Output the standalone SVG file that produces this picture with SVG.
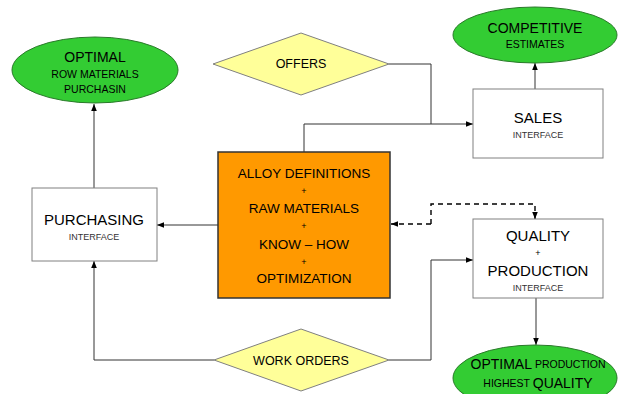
<svg xmlns="http://www.w3.org/2000/svg" width="619" height="394" viewBox="0 0 619 394">
<defs>
<marker id="arr" viewBox="0 0 10 10" refX="10" refY="5" markerWidth="7" markerHeight="7" markerUnits="userSpaceOnUse" orient="auto">
<path d="M0,1 L10,5 L0,9 z" fill="#000"/>
</marker>
<style>
text{font-family:"Liberation Sans",Arial,sans-serif;fill:#000;text-anchor:middle;dominant-baseline:central}
.box{fill:#fff;stroke:#808080;stroke-width:1}
.ell{fill:#33cc33;stroke:#2a7a2a;stroke-width:1}
.dia{fill:#ffff99;stroke:#808080;stroke-width:1}
.core{fill:#ff9900;stroke:#333;stroke-width:1.5}
.con{fill:none;stroke:#333;stroke-width:1}
.dash{stroke:#000;stroke-width:1.4;stroke-dasharray:5,4}
.big{font-size:15px}
.mid{font-size:13.5px}
.sm{font-size:9px;fill:#333}
.el1{font-size:14px}
.el2{font-size:10.5px}
.plus{font-size:9px}
</style>
</defs>
<g id="connectors">
<path class="con" d="M94,188 V104" marker-end="url(#arr)"/>
<path class="con" d="M535,89 V63" marker-end="url(#arr)"/>
<path class="con" d="M218,225 H157" marker-end="url(#arr)"/>
<path class="con" d="M304,152 V124 H473" marker-end="url(#arr)"/>
<path class="con" d="M389,64 H431 V124"/>
<path class="con" d="M214,360 H94 V261" marker-end="url(#arr)"/>
<path class="con" d="M389,360 H431 V260 H473" marker-end="url(#arr)"/>
<path class="con" d="M536,298 V345" marker-end="url(#arr)"/>
<path class="con dash" d="M431,224 V204 H535 V219" marker-end="url(#arr)"/>
<path class="con dash" d="M431,224 H391" marker-end="url(#arr)"/>
</g>
<g id="optimal-purchasing">
<ellipse class="ell" cx="95" cy="70" rx="83" ry="33"/>
<text class="el1" x="95" y="57">OPTIMAL</text>
<text class="el2" x="95" y="74">ROW MATERIALS</text>
<text class="el2" x="95" y="89">PURCHASIN</text>
</g>
<g id="competitive">
<ellipse class="ell" cx="535" cy="35" rx="82" ry="28"/>
<text class="el1" x="535" y="28">COMPETITIVE</text>
<text class="el2" x="535" y="44">ESTIMATES</text>
</g>
<g id="offers">
<polygon class="dia" points="213,64 301,33 389,64 301,95"/>
<text style="font-size:12.5px" x="301" y="64">OFFERS</text>
</g>
<g id="sales">
<rect class="box" x="473" y="89" width="130" height="69"/>
<text class="big" x="538" y="117">SALES</text>
<text class="sm" x="538" y="135">INTERFACE</text>
</g>
<g id="core">
<rect class="core" x="218" y="152" width="172" height="146"/>
<text class="mid" x="304" y="173">ALLOY DEFINITIONS</text>
<text class="plus" x="304" y="191">+</text>
<text class="mid" x="304" y="208">RAW MATERIALS</text>
<text class="plus" x="304" y="226">+</text>
<text class="mid" x="304" y="244">KNOW – HOW</text>
<text class="plus" x="304" y="262">+</text>
<text class="mid" x="304" y="278">OPTIMIZATION</text>
</g>
<g id="purchasing">
<rect class="box" x="32" y="188" width="125" height="73"/>
<text class="big" x="94" y="219">PURCHASING</text>
<text class="sm" x="94" y="237">INTERFACE</text>
</g>
<g id="quality">
<rect class="box" x="473" y="219" width="130" height="79"/>
<text class="big" x="538" y="235">QUALITY</text>
<text class="plus" x="538" y="253">+</text>
<text class="big" x="538" y="270">PRODUCTION</text>
<text class="sm" x="538" y="288">INTERFACE</text>
</g>
<g id="work-orders">
<polygon class="dia" points="214,360 301,329 389,360 301,391"/>
<text style="font-size:12.5px" x="301" y="361">WORK ORDERS</text>
</g>
<g id="optimal-production">
<ellipse class="ell" cx="535" cy="378" rx="82" ry="33"/>
<text x="538" y="364"><tspan class="el1">OPTIMAL</tspan><tspan class="el2"> PRODUCTION</tspan></text>
<text x="538" y="383"><tspan class="el2">HIGHEST </tspan><tspan class="el1">QUALITY</tspan></text>
</g>
</svg>
